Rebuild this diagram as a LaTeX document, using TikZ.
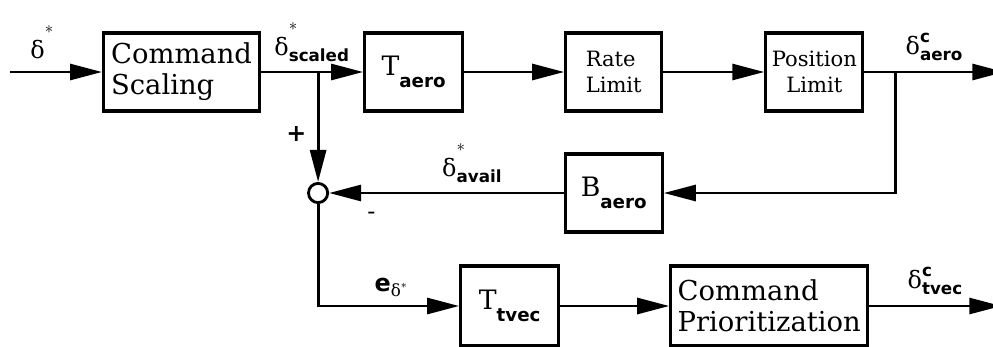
\documentclass[tikz,border=0pt]{standalone}
\usepackage{amsmath}
\usepackage{fontspec}
\setmainfont{DejaVu Serif}
\setsansfont{DejaVu Sans}
\usetikzlibrary{shapes, arrows.meta, positioning, calc}

\newcommand{\lbl}[1]{\textsf{\bfseries #1}}
\newcommand{\upstar}{\raisebox{1.1ex}{$\scriptstyle *$}}
\newcommand{\dlt}{\text{δ}}
\newcommand{\blk}[2]{{\fontsize{19}{19}\selectfont #1}\raisebox{-8pt}{\fontsize{13}{13}\selectfont\lbl{#2}}}

\begin{document}
\begin{tikzpicture}[
		>={Triangle[length=0.8cm, width=0.4cm]},
		every node/.style={font=\fontsize{17}{20}\selectfont},
		% Estilos de los bloques
		block/.style={draw, rectangle, line width=2.2pt, minimum height=1.95cm, inner sep=2pt, fill=white},
		big/.style={font=\fontsize{19.5}{22}\selectfont},
		small/.style={font=\fontsize{15}{19}\selectfont},
		sum/.style={draw, circle, line width=2pt, inner sep=0pt, minimum size=0.48cm},
		line/.style={draw, line width=2pt, ->}
		]
		\useasboundingbox (-0.25,-6.85) rectangle (24.575,1.8);
		
		% --- NODOS (BLOQUES) ---
		
		% Entrada y escalado
		\coordinate (input) at (0,0);
		\node [block, big, right=2.3cm of input, minimum width=3.9cm, align=left] (scaling) {Command\\Scaling};
		
		% Cadena aerodinamica
		\node [block, right=2.55cm of scaling, minimum width=2.45cm] (Taero) {\blk{T}{aero}};
		\node [block, small, right=2.5cm of Taero, minimum width=2.4cm, align=left] (rate) {Rate\\Limit};
		\node [block, small, right=2.525cm of rate, minimum width=2.425cm, align=center] (position) {Position\\Limit};
		\coordinate [right=3.5cm of position] (aero);
		
		% Sumador y realimentacion
		\coordinate (split) at ($(scaling.east)+(1.425,0)$);
		\coordinate (branch) at ($(position.east)+(0.775,0)$);
		\node [sum] (sum) at ($(split)+(0,-3.025)$) {};
		\node [block, minimum width=2.425cm] (Baero) at (rate |- sum) {\blk{B}{aero}};
		
		% Cadena de vectorizacion
		\coordinate (corner) at ($(sum)+(0,-2.825)$);
		\node [block, right=3.525cm of corner, minimum width=2.45cm, minimum height=2cm] (Ttvec) {\blk{T}{tvec}};
		\node [block, big, right=2.725cm of Ttvec, minimum width=4.925cm, minimum height=2cm, align=left] (prior) {Command\\Prioritization};
		\coordinate [right=3.3cm of prior] (tvec);
		
		% --- LÍNEAS DIRECTAS ---
		\draw [line] (input) -- node [pos=0.35, above=5pt] {$\dlt^{\upstar}$} (scaling);
		\draw [line] (scaling) -- node [above=3pt] {$\dlt^{\upstar}_{\lbl{scaled}}$} (Taero);
		\draw [line] (Taero) -- (rate);
		\draw [line] (rate) -- (position);
		\draw [line] (position) -- node [above=4pt] {$\dlt^{\lbl{c}}_{\lbl{aero}}$} (aero);
		
		% --- LAZOS ---
		\draw [line] (branch) |- (Baero);
		\draw [line] (Baero) -- node [pos=0.39, above=3pt] {$\dlt^{\upstar}_{\lbl{avail}}$} node [pos=0.82, below=9pt] {-} (sum);
		\draw [line] (split) -- node [pos=0.56, left=4pt] {\textbf{+}} (sum);
		\draw [line] (sum) |- node [pos=0.76, above=2pt] {$\lbl{e}_{\dlt^{*}}$} (Ttvec);
		\draw [line] (Ttvec) -- (prior);
		\draw [line] (prior) -- node [above=4pt] {$\dlt^{\lbl{c}}_{\lbl{tvec}}$} (tvec);
		
	\end{tikzpicture}
\end{document}
